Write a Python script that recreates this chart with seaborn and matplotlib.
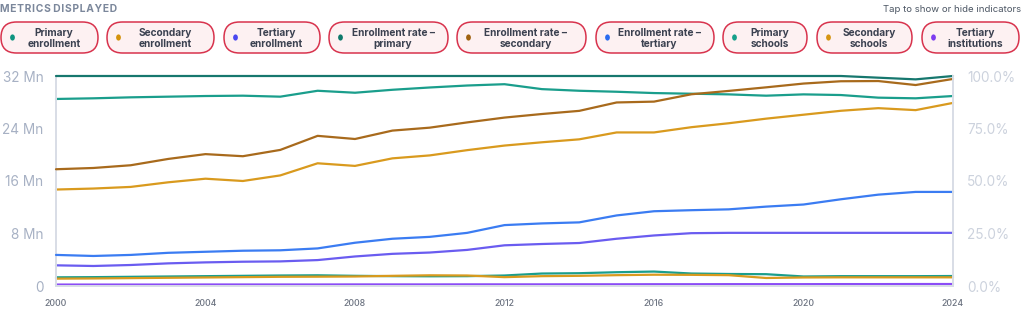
import matplotlib
matplotlib.use("Agg")
import matplotlib.pyplot as plt
from matplotlib import transforms
from matplotlib.patches import FancyBboxPatch, Ellipse
import seaborn as sns
import pandas as pd

# ---------------- data ----------------
years = list(range(2000, 2025))

# left axis (millions)
primary_enrollment = [28.5, 28.6, 28.75, 28.85, 28.95, 29.0, 28.85, 29.75, 29.45, 29.9, 30.25, 30.55,
                      30.75, 30.0, 29.75, 29.6, 29.4, 29.3, 29.2, 29.0, 29.2, 29.1, 28.7, 28.6, 28.95]
secondary_enrollment = [14.7, 14.85, 15.1, 15.8, 16.35, 16.0, 16.85, 18.7, 18.3, 19.45, 19.9, 20.7,
                        21.4, 21.9, 22.35, 23.4, 23.4, 24.2, 24.8, 25.5, 26.1, 26.7, 27.1, 26.8, 27.9]
tertiary_enrollment = [3.15, 3.05, 3.2, 3.45, 3.6, 3.7, 3.75, 3.95, 4.5, 4.9, 5.1, 5.5,
                       6.2, 6.4, 6.55, 7.2, 7.7, 8.05, 8.1, 8.1, 8.1, 8.1, 8.1, 8.1, 8.1]
primary_schools = [1.32, 1.35, 1.4, 1.45, 1.5, 1.55, 1.6, 1.63, 1.55, 1.5, 1.48, 1.5,
                   1.6, 1.9, 1.95, 2.1, 2.2, 1.9, 1.83, 1.8, 1.45, 1.5, 1.5, 1.5, 1.52]
secondary_schools = [1.12, 1.15, 1.2, 1.25, 1.3, 1.35, 1.4, 1.42, 1.45, 1.55, 1.63, 1.6,
                     1.35, 1.5, 1.55, 1.65, 1.72, 1.7, 1.65, 1.22, 1.3, 1.32, 1.32, 1.32, 1.32]
tertiary_institutions = [0.22, 0.22, 0.22, 0.22, 0.23, 0.23, 0.23, 0.23, 0.24, 0.24, 0.24, 0.25,
                         0.25, 0.25, 0.26, 0.26, 0.27, 0.27, 0.28, 0.28, 0.28, 0.29, 0.29, 0.3, 0.3]

# right axis (percent)
rate_primary = [100.0] * 22 + [99.2, 98.4, 100.0]
rate_secondary = [55.6, 56.2, 57.5, 60.5, 62.8, 61.8, 64.8, 71.5, 70.0, 74.0, 75.4, 77.9,
                  80.2, 81.9, 83.4, 87.4, 87.8, 91.3, 92.9, 94.6, 96.4, 97.5, 97.6, 95.7, 98.6]
rate_tertiary = [14.8, 14.3, 14.8, 15.8, 16.3, 16.8, 17.0, 17.9, 20.6, 22.5, 23.4, 25.3,
                 29.0, 29.8, 30.3, 33.6, 35.6, 36.1, 36.5, 37.8, 38.8, 41.3, 43.5, 44.8, 44.8]

left_ticks = [0, 8, 16, 24, 32]
left_labels = ["0", "8 Mn", "16 Mn", "24 Mn", "32 Mn"]
right_ticks = [0, 25, 50, 75, 100]
right_labels = ["0.0%", "25.0%", "50.0%", "75.0%", "100.0%"]
x_ticks = [2000, 2004, 2008, 2012, 2016, 2020, 2024]

legend_labels = ["Primary\nenrollment", "Secondary\nenrollment", "Tertiary\nenrollment",
                 "Enrollment rate –\nprimary", "Enrollment rate –\nsecondary",
                 "Enrollment rate –\ntertiary", "Primary\nschools", "Secondary\nschools",
                 "Tertiary\ninstitutions"]

# ---------------- styles ----------------
colors = {
    "Primary enrollment": "#1a9e8c",
    "Secondary enrollment": "#d99a1e",
    "Tertiary enrollment": "#6a5cf0",
    "Enrollment rate – primary": "#16776e",
    "Enrollment rate – secondary": "#a86a1c",
    "Enrollment rate – tertiary": "#3b7cf2",
    "Primary schools": "#1a9e8c",
    "Secondary schools": "#d99a1e",
    "Tertiary institutions": "#8b4cf6",
}
legend_dot_colors = ["#0f9480", "#d4920c", "#4a47f0", "#0f7a6c", "#a0620f",
                     "#2a6cf0", "#16a08a", "#d69512", "#7d3cf0"]

sns.set_theme(style="white")
plt.rcParams["font.family"] = ["Inter", "DejaVu Sans"]

W, H = 1024, 331
fig = plt.figure(figsize=(W / 100, H / 100), dpi=100)
ax = fig.add_axes([56 / W, 1 - 286 / H, (953 - 56) / W, (286 - 76) / H])
ax2 = ax.twinx()

left_df = pd.DataFrame({
    "year": years * 6,
    "value": primary_schools + secondary_schools + tertiary_institutions
             + tertiary_enrollment + secondary_enrollment + primary_enrollment,
    "series": (["Primary schools"] * 25 + ["Secondary schools"] * 25 + ["Tertiary institutions"] * 25
               + ["Tertiary enrollment"] * 25 + ["Secondary enrollment"] * 25 + ["Primary enrollment"] * 25),
})
right_df = pd.DataFrame({
    "year": years * 3,
    "value": rate_tertiary + rate_secondary + rate_primary,
    "series": (["Enrollment rate – tertiary"] * 25 + ["Enrollment rate – secondary"] * 25
               + ["Enrollment rate – primary"] * 25),
})

for name, g in left_df.groupby("series", sort=False):
    sns.lineplot(data=g, x="year", y="value", ax=ax, color=colors[name], linewidth=1.6,
                 legend=False, clip_on=False)
for name, g in right_df.groupby("series", sort=False):
    sns.lineplot(data=g, x="year", y="value", ax=ax2, color=colors[name], linewidth=1.6,
                 legend=False, clip_on=False)

ax.set_xlim(2000, 2024)
ax.set_ylim(0, 32)
ax2.set_ylim(0, 100)
ax.set_xticks(x_ticks)
ax.set_xticklabels([str(t) for t in x_ticks], fontsize=6.3, color="#6b7280", fontweight="medium")
ax.set_yticks(left_ticks)
ax.set_yticklabels(left_labels, fontsize=9.8, color="#a7b1c4")
ax2.set_yticks(right_ticks)
ax2.set_yticklabels(right_labels, fontsize=9.8, color="#ccd2dd")
ax.set_xlabel("")
ax.set_ylabel("")
ax2.set_ylabel("")
ax.tick_params(axis="x", length=0, pad=9)
ax.tick_params(axis="y", length=0, pad=9)
ax2.tick_params(axis="y", length=0, pad=10)
ax.grid(False)
ax2.grid(False)
for a in (ax, ax2):
    a.spines["top"].set_visible(False)
    for s in ("left", "right", "bottom"):
        a.spines[s].set_color("#d8dde6")
        a.spines[s].set_linewidth(1.4)
ax.spines["right"].set_visible(False)
ax2.spines["left"].set_visible(False)
ax2.spines["bottom"].set_visible(False)
ax.set_facecolor("none")
ax2.set_facecolor("none")

# ---------------- header ----------------
def fy(py):
    return 1 - py / H

fig.text(0 / W, fy(9), "M E T R I C S   D I S P L A Y E D".replace(" ", "\u200a").replace("\u200a\u200a\u200a", " "),
         fontsize=7.4, fontweight="bold", color="#7b879b", ha="left", va="center")
fig.text(1021 / W, fy(9), "Tap to show or hide indicators", fontsize=6.9, color="#4b5563",
         ha="right", va="center")

pills = [(0, 99), (106, 215), (223, 321), (328, 449), (456, 587),
         (595, 715), (722, 808), (816, 913), (921, 1020)]
ident = transforms.IdentityTransform()
top, bottom = 22, 53
for (x0, x1), label, dc in zip(pills, legend_labels, legend_dot_colors):
    h = bottom - top
    p = FancyBboxPatch((x0 + 1, H - bottom), (x1 - x0) - 2, h,
                       boxstyle=f"round,pad=0,rounding_size={h / 2}",
                       transform=ident, facecolor="#fdf1f2", edgecolor="#d8334d", linewidth=1.1)
    fig.add_artist(p)
    e = Ellipse((x0 + 12.5, H - 37.5), 4.8, 6.2, transform=ident, facecolor=dc, edgecolor="none")
    fig.add_artist(e)
    cx = (x0 + x1) / 2 + 4.5
    fig.text(cx / W, fy(38.5), label, fontsize=7.3, fontweight="bold", color="#3b4150",
             ha="center", va="center", linespacing=1.1)

fig.savefig("out.png", dpi=100)
